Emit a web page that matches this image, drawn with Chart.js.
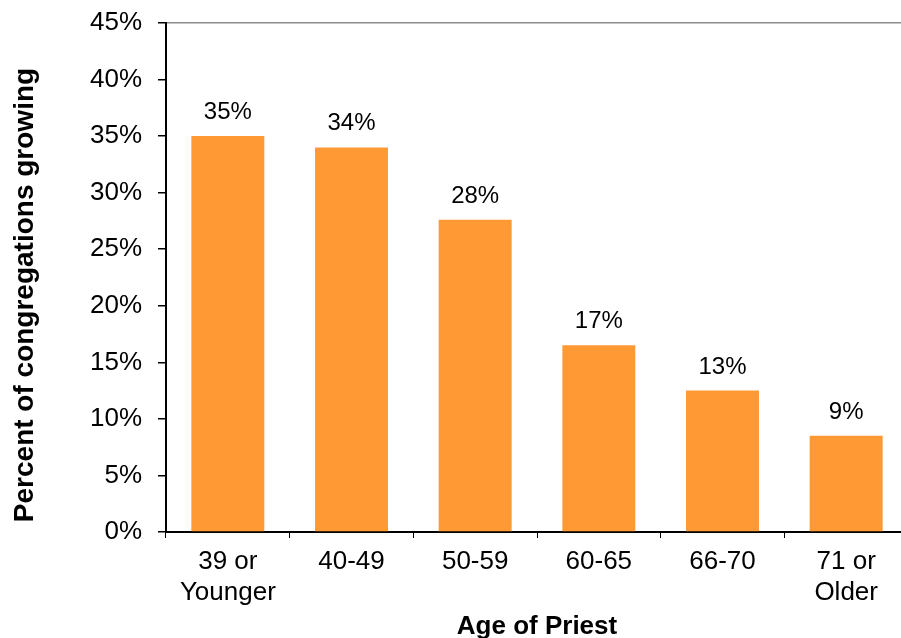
<!DOCTYPE html>
<html>
<head>
<meta charset="utf-8">
<script src="https://cdn.jsdelivr.net/npm/chart.js@4"></script>
<style>
  html, body { margin: 0; padding: 0; background: #fff; overflow: hidden; }
  #wrap { width: 912px; height: 638px; }
</style>
</head>
<body>
<div id="wrap"><canvas id="c" width="912" height="638"></canvas></div>
<script>
const categories = [["39 or", "Younger"], "40-49", "50-59", "60-65", "66-70", ["71 or", "Older"]];
const values = [35, 34, 27.6, 16.5, 12.5, 8.5];
const yTicks = [0, 5, 10, 15, 20, 25, 30, 35, 40, 45];
const yTitle = "Percent of congregations growing";
const xTitle = "Age of Priest";

const FONT = "'Liberation Sans', Arial, sans-serif";

const labelsPlugin = {
  id: 'customText',
  afterDatasetsDraw(chart) {
    const ctx = chart.ctx;
    const meta = chart.getDatasetMeta(0);
    ctx.save();
    ctx.fillStyle = '#000';
    ctx.font = '24px ' + FONT;
    ctx.textAlign = 'center';
    ctx.textBaseline = 'alphabetic';
    meta.data.forEach((bar, i) => {
      ctx.fillText(Math.round(values[i]) + '%', bar.x, bar.y - 17);
    });
    ctx.restore();
  },
  afterDraw(chart) {
    const ctx = chart.ctx;
    const area = chart.chartArea;
    ctx.save();
    ctx.fillStyle = '#000';
    ctx.font = 'bold 26px ' + FONT;
    ctx.textAlign = 'center';
    ctx.textBaseline = 'alphabetic';
    ctx.fillText(xTitle, (area.left + area.right) / 2, 634);
    ctx.translate(33, 295);
    ctx.rotate(-Math.PI / 2);
    ctx.font = 'bold 28px ' + FONT;
    ctx.fillText(yTitle, 0, 0);
    ctx.restore();
  }
};

new Chart(document.getElementById('c'), {
  type: 'bar',
  data: {
    labels: categories,
    datasets: [{
      data: values,
      backgroundColor: '#FF9933',
      borderWidth: 0,
      barPercentage: 0.59,
      categoryPercentage: 1.0
    }]
  },
  options: {
    responsive: false,
    animation: false,
    devicePixelRatio: 1,
    layout: { padding: { top: 23, right: 4, left: 0, bottom: 0 } },
    plugins: { legend: { display: false }, tooltip: { enabled: false } },
    scales: {
      x: {
        afterFit(scale) { scale.height = 106; scale.paddingLeft = 0; scale.paddingRight = 0; },
        grid: {
          display: true,
          drawOnChartArea: false,
          offset: true,
          tickLength: 6,
          tickColor: '#000',
          lineWidth: 1
        },
        border: { display: true, color: '#000', width: 2 },
        ticks: {
          color: '#000',
          font: { family: FONT, size: 26 },
          padding: 8,
          maxRotation: 0,
          autoSkip: false
        }
      },
      y: {
        min: 0,
        max: 45,
        afterFit(scale) { scale.width = 166; scale.paddingTop = 0; scale.paddingBottom = 0; },
        afterBuildTicks(scale) { scale.ticks = yTicks.map(v => ({ value: v })); },
        grid: {
          display: true,
          drawOnChartArea: true,
          color: (ctx) => (ctx.tick && ctx.tick.value === 45 ? '#8c8c8c' : 'rgba(0,0,0,0)'),
          tickColor: '#000',
          tickLength: 8,
          lineWidth: 1.5
        },
        border: { display: true, color: '#000', width: 2 },
        ticks: {
          color: '#000',
          font: { family: FONT, size: 26 },
          padding: 16,
          callback: (v) => v + '%'
        }
      }
    }
  },
  plugins: [labelsPlugin]
});
</script>
</body>
</html>
